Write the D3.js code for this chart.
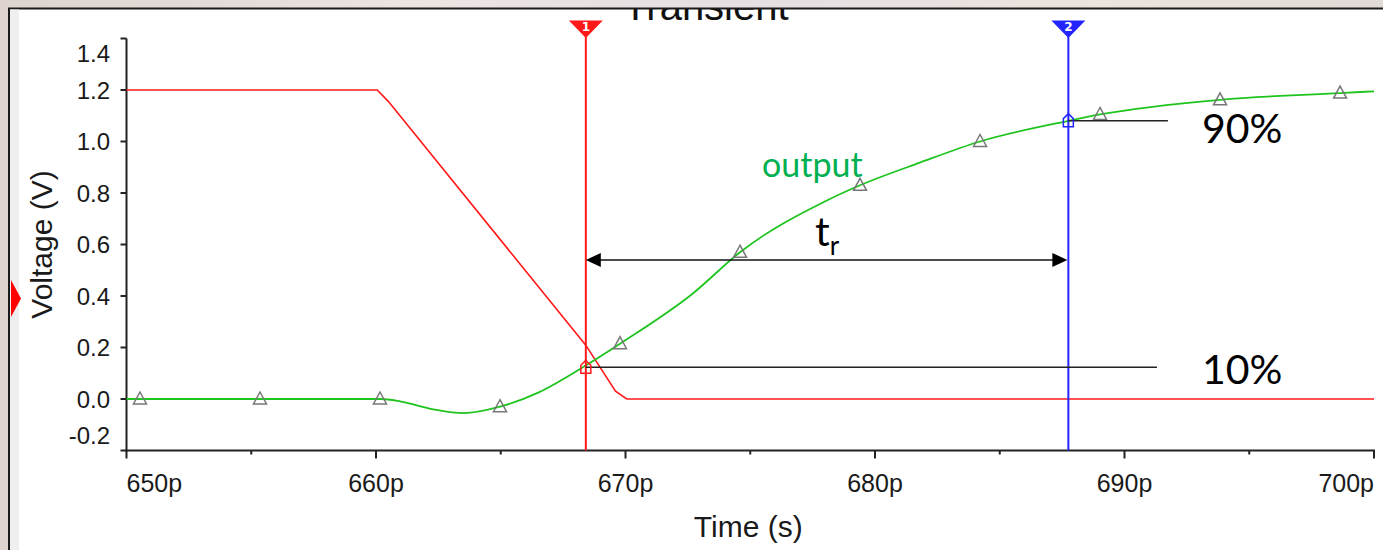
<!DOCTYPE html>
<html>
<head>
<meta charset="utf-8">
<script src="https://cdn.jsdelivr.net/npm/d3@7"></script>
<style>
  html, body { margin: 0; padding: 0; background: #e4dcd8; }
  svg { display: block; }
</style>
</head>
<body>
<svg id="chart" width="1383" height="550"></svg>
<script>
// Transient waveform: input (red) falls, output (green) rises, rise time marked between cursors

// Input waveform (V) vs time (ps)
const inputTime = [650, 660.05, 660.5, 668.4, 669.6, 670.05, 700];
const inputV = [1.2, 1.2, 1.155, 0.21, 0.03, 0, 0];

// Output waveform
const outputTime = [650, 660.2, 661, 662.3, 663.5, 664.97, 666.5, 668.4, 669.78, 672.7, 674.59,
  678.05, 679.4, 681.8, 684.21, 687.75, 689.02, 693.83, 698.64, 700];
const outputV = [0, 0, -0.01, -0.04, -0.055, -0.03, 0.025, 0.13, 0.215, 0.41, 0.57,
  0.77, 0.83, 0.918, 1.0, 1.08, 1.105, 1.162, 1.188, 1.195];

// Triangle markers on the output trace
const markerTime = [650.54, 655.35, 660.16, 664.97, 669.78, 674.59, 679.4, 684.21, 689.02, 693.83, 698.64];
const markerV = [0, 0, 0, -0.03, 0.215, 0.57, 0.83, 1.0, 1.105, 1.162, 1.188];

// Cursors
const cursorTime = [668.41, 687.75];
const cursorLabel = ['1', '2'];
const cursorColor = ['#ff1a1a', '#2424ff'];

// 10% / 90% levels
const levelLabel = ['10%', '90%'];
const levelV = [0.123, 1.081];
const levelStart = [668.41, 687.75];
const levelEnd = [691.3, 691.74];
const arrowV = 0.54;

// Axis ticks
const xTicks = [650, 660, 670, 680, 690, 700];
const xTickLabels = ['650p', '660p', '670p', '680p', '690p', '700p'];
const xMinorTicks = [655, 665, 675, 685, 695];
const yTicks = [-0.2, 0, 0.2, 0.4, 0.6, 0.8, 1.0, 1.2, 1.4];
const yTickLabels = ['-0.2', '0.0', '0.2', '0.4', '0.6', '0.8', '1.0', '1.2', '1.4'];

const svg = d3.select('#chart');
const W = 1383, H = 550;

const x = d3.scaleLinear().domain([650, 700]).range([126.5, 1374]);
const y = d3.scaleLinear().domain([-0.2, 1.4]).range([450.5, 38.5]);

// Backdrop and white panel
const defs = svg.append('defs');
const grad = defs.append('linearGradient').attr('id', 'bg');
[['0%', '#ddd3cf'], ['30%', '#ebe4e1'], ['55%', '#e6dfe3'], ['80%', '#ece3dc'], ['100%', '#e2dad6']]
  .forEach(([o, c]) => grad.append('stop').attr('offset', o).attr('stop-color', c));
svg.append('rect').attr('width', W).attr('height', H).attr('fill', 'url(#bg)');

defs.append('clipPath').attr('id', 'panel')
  .append('rect').attr('x', 9).attr('y', 9).attr('width', W).attr('height', H);

svg.append('rect')
  .attr('x', 9).attr('y', 8.5).attr('width', W).attr('height', H)
  .attr('fill', '#fff').attr('stroke', '#1a1a1a').attr('stroke-width', 2);
svg.append('rect')
  .attr('x', 10).attr('y', 9.5).attr('width', 9).attr('height', H)
  .attr('fill', '#efefef');

// Red marker on the left edge
svg.append('path')
  .attr('d', 'M11,280 L21,298.5 L11,317 Z')
  .attr('fill', '#ff0000');

const g = svg.append('g').attr('clip-path', 'url(#panel)');

// Title, partly hidden behind the panel top as in the original screenshot
g.append('text')
  .attr('x', 706).attr('y', 20)
  .attr('text-anchor', 'middle')
  .attr('font-family', 'Liberation Sans, Arial, sans-serif')
  .attr('font-size', 40)
  .attr('fill', '#111')
  .text('Transient');

// Axes
const axisColor = '#222';
g.append('line')
  .attr('x1', x(650)).attr('x2', x(650)).attr('y1', y(1.4)).attr('y2', y(-0.2) + 1)
  .attr('stroke', axisColor).attr('stroke-width', 2);
g.append('line')
  .attr('x1', x(650) - 1).attr('x2', x(700) + 1).attr('y1', y(-0.2)).attr('y2', y(-0.2))
  .attr('stroke', axisColor).attr('stroke-width', 2);

g.selectAll('.ytick')
  .data(yTicks)
  .join('line')
  .attr('x1', x(650) - 6).attr('x2', x(650))
  .attr('y1', d => y(d)).attr('y2', d => y(d))
  .attr('stroke', axisColor).attr('stroke-width', 2);

g.selectAll('.ylab')
  .data(yTicks)
  .join('text')
  .attr('x', 110)
  .attr('y', (d, i) => y(d) + (i === 0 ? -15 : i === yTicks.length - 1 ? 15 : 0))
  .attr('dy', '0.36em')
  .attr('text-anchor', 'end')
  .attr('font-family', 'Liberation Sans, Arial, sans-serif')
  .attr('font-size', 24)
  .attr('fill', '#1a1a1a')
  .text((d, i) => yTickLabels[i]);

g.selectAll('.xtick')
  .data(xTicks)
  .join('line')
  .attr('x1', d => x(d)).attr('x2', d => x(d))
  .attr('y1', y(-0.2)).attr('y2', y(-0.2) + 8)
  .attr('stroke', axisColor).attr('stroke-width', 2);

g.selectAll('.xminor')
  .data(xMinorTicks)
  .join('line')
  .attr('x1', d => x(d)).attr('x2', d => x(d))
  .attr('y1', y(-0.2)).attr('y2', y(-0.2) + 4)
  .attr('stroke', axisColor).attr('stroke-width', 2);

g.selectAll('.xlab')
  .data(xTicks)
  .join('text')
  .attr('x', d => x(d))
  .attr('y', 491.5)
  .attr('text-anchor', (d, i) => i === 0 ? 'start' : i === xTicks.length - 1 ? 'end' : 'middle')
  .attr('font-family', 'Liberation Sans, Arial, sans-serif')
  .attr('font-size', 25)
  .attr('fill', '#1a1a1a')
  .text((d, i) => xTickLabels[i]);

g.append('text')
  .attr('x', (x(650) + x(700)) / 2 - 2).attr('y', 536.5)
  .attr('text-anchor', 'middle')
  .attr('font-family', 'Liberation Sans, Arial, sans-serif')
  .attr('font-size', 30)
  .attr('fill', '#1a1a1a')
  .text('Time (s)');

g.append('text')
  .attr('transform', `translate(52,${(y(1.4) + y(-0.2)) / 2}) rotate(-90)`)
  .attr('text-anchor', 'middle')
  .attr('font-family', 'Liberation Sans, Arial, sans-serif')
  .attr('font-size', 30)
  .attr('fill', '#1a1a1a')
  .text('Voltage (V)');

// Waveforms
const line = d3.line().x(d => x(d[0])).y(d => y(d[1]));

g.append('path')
  .datum(d3.zip(inputTime, inputV))
  .attr('d', line)
  .attr('fill', 'none').attr('stroke', '#ff1a1a').attr('stroke-width', 1.6);

g.append('path')
  .datum(d3.zip(outputTime, outputV))
  .attr('d', line.curve(d3.curveMonotoneX))
  .attr('fill', 'none').attr('stroke', '#1fc41f').attr('stroke-width', 1.8);

g.selectAll('.marker')
  .data(d3.zip(markerTime, markerV))
  .join('path')
  .attr('transform', d => `translate(${x(d[0])},${y(d[1])})`)
  .attr('d', 'M0,-7 L6.5,5 L-6.5,5 Z')
  .attr('fill', 'none').attr('stroke', '#777').attr('stroke-width', 1.5);

// Cursors
cursorTime.forEach((t, i) => {
  const cx = x(t);
  g.append('line')
    .attr('x1', cx).attr('x2', cx).attr('y1', 36).attr('y2', y(-0.2))
    .attr('stroke', cursorColor[i]).attr('stroke-width', 2);
  g.append('path')
    .attr('d', `M${cx - 17},20.5 L${cx + 17},20.5 L${cx},38 Z`)
    .attr('fill', cursorColor[i]);
  g.append('text')
    .attr('x', cx).attr('y', 31)
    .attr('text-anchor', 'middle')
    .attr('font-family', 'DejaVu Sans, sans-serif')
    .attr('font-weight', 'bold')
    .attr('font-size', 12)
    .attr('fill', '#fff')
    .text(cursorLabel[i]);
});

// 10% / 90% guide lines
g.selectAll('.level')
  .data(levelV)
  .join('line')
  .attr('x1', (d, i) => x(levelStart[i])).attr('x2', (d, i) => x(levelEnd[i]))
  .attr('y1', d => y(d)).attr('y2', d => y(d))
  .attr('stroke', '#222').attr('stroke-width', 1.5);

// Cursor crossing markers on the output trace
levelV.forEach((v, i) => {
  const px = x(levelStart[i]), py = y(v);
  g.append('path')
    .attr('d', `M${px - 5},${py + 6} L${px + 5},${py + 6} L${px + 5},${py - 2} L${px},${py - 7} L${px - 5},${py - 2} Z`)
    .attr('fill', 'none').attr('stroke', cursorColor[i]).attr('stroke-width', 1.5);
});

g.selectAll('.levelText')
  .data(levelLabel)
  .join('text')
  .attr('x', 1202)
  .attr('y', (d, i) => y(levelV[i]) + (i === 0 ? 17 : 22.5))
  .attr('font-family', 'Lato, sans-serif')
  .attr('font-size', 41)
  .attr('fill', '#000')
  .text(d => d);

// Rise time arrow
const ay = y(arrowV);
g.append('line')
  .attr('x1', x(cursorTime[0]) + 12).attr('x2', x(cursorTime[1]) - 12)
  .attr('y1', ay).attr('y2', ay)
  .attr('stroke', '#111').attr('stroke-width', 1.5);
g.append('path')
  .attr('d', `M${x(cursorTime[0])},${ay} l15,-7 l0,14 Z`)
  .attr('fill', '#000');
g.append('path')
  .attr('d', `M${x(cursorTime[1]) - 1},${ay} l-15,-7 l0,14 Z`)
  .attr('fill', '#000');

const tr = g.append('text')
  .attr('x', 815).attr('y', 246)
  .attr('font-family', 'Lato, sans-serif')
  .attr('font-size', 41)
  .attr('fill', '#000');
tr.append('tspan').text('t');
tr.append('tspan').attr('dy', 9).attr('font-size', 26).text('r');

// Trace label
g.append('text')
  .attr('x', 762).attr('y', 177)
  .attr('font-family', 'Lato, sans-serif')
  .attr('font-size', 34)
  .attr('fill', '#00b050')
  .text('output');
</script>
</body>
</html>
